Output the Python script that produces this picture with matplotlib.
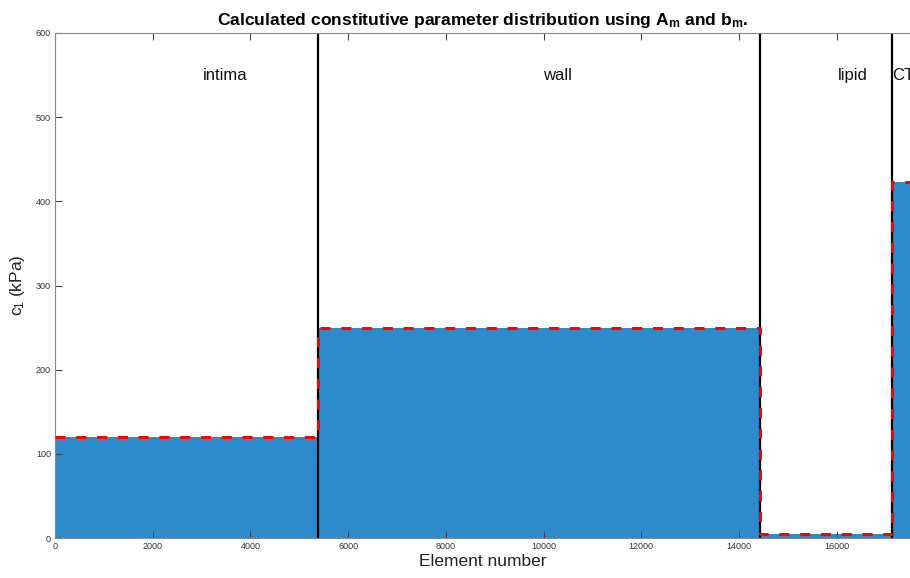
import numpy as np
import matplotlib
matplotlib.use("Agg")
import matplotlib.pyplot as plt

plt.rcParams['font.family'] = ['Liberation Sans', 'DejaVu Sans']
plt.rcParams['mathtext.fontset'] = 'custom'
plt.rcParams['mathtext.rm'] = 'Liberation Sans'
plt.rcParams['mathtext.it'] = 'Liberation Sans'
plt.rcParams['mathtext.bf'] = 'Liberation Sans:bold'

# ---- data ----
region_names = ['intima', 'wall', 'lipid', 'CT']
region_starts = [0, 5383, 14430, 17130]
region_ends = [5383, 14430, 17130, 17500]
region_c1 = [120, 250, 5, 423]           # kPa
label_x = [3480, 10280, 16330, 17140]
label_y = [549, 549, 549, 549]
x_ticks = [0, 2000, 4000, 6000, 8000, 10000, 12000, 14000, 16000]
y_ticks = [0, 100, 200, 300, 400, 500, 600]

counts = [e - s for s, e in zip(region_starts, region_ends)]
c1 = np.repeat(region_c1, counts)
elements = np.arange(1, len(c1) + 1)

fig = plt.figure(figsize=(9.10, 5.78), dpi=100)
ax = fig.add_axes([55/910, 40/578, 1 - 55/910, 505/578])

ax.bar(elements, c1, width=1.0, color='#2e8bcb', linewidth=0, antialiased=False, zorder=1)

# boundaries
for b in region_starts[1:]:
    ax.axvline(b, color='black', lw=1.6, zorder=2)

# red dashed outline
sx = region_starts + [region_ends[-1]]
sy = region_c1 + [region_c1[-1]]
ax.plot(sx, sy, drawstyle='steps-post', color='#ff0000', lw=2.2,
        linestyle=(0, (3.3, 3.5)), zorder=3)

for name, lx, ly in zip(region_names, label_x, label_y):
    ha = 'left' if name == 'CT' else 'center'
    ax.text(lx, ly, name, ha=ha, va='center', fontsize=12, color='#111111', zorder=4)

ax.set_xlim(0, 17500)
ax.set_ylim(0, 600)
ax.set_xticks(x_ticks)
ax.set_yticks(y_ticks)
ax.tick_params(direction='in', length=5, width=0.8, color='#444444',
               labelsize=6.5, labelcolor='#333333', top=True, right=False, pad=3)
for s in ['left', 'top', 'bottom']:
    ax.spines[s].set_color('#888888')
    ax.spines[s].set_linewidth(0.8)
ax.spines['right'].set_visible(False)

ax.set_xlabel('Element number', fontsize=12.5, color='#222222', labelpad=2)
ax.set_ylabel(r'c$_{\!\mathrm{1}}$ (kPa)', fontsize=12.5, color='#222222', labelpad=6)
ax.set_title(r'Calculated constitutive parameter distribution using A$_{\mathbf{m}}$ and b$_{\mathbf{m}}$.',
             fontsize=12.6, fontweight='bold', pad=6)

fig.savefig('out.png', dpi=100)
